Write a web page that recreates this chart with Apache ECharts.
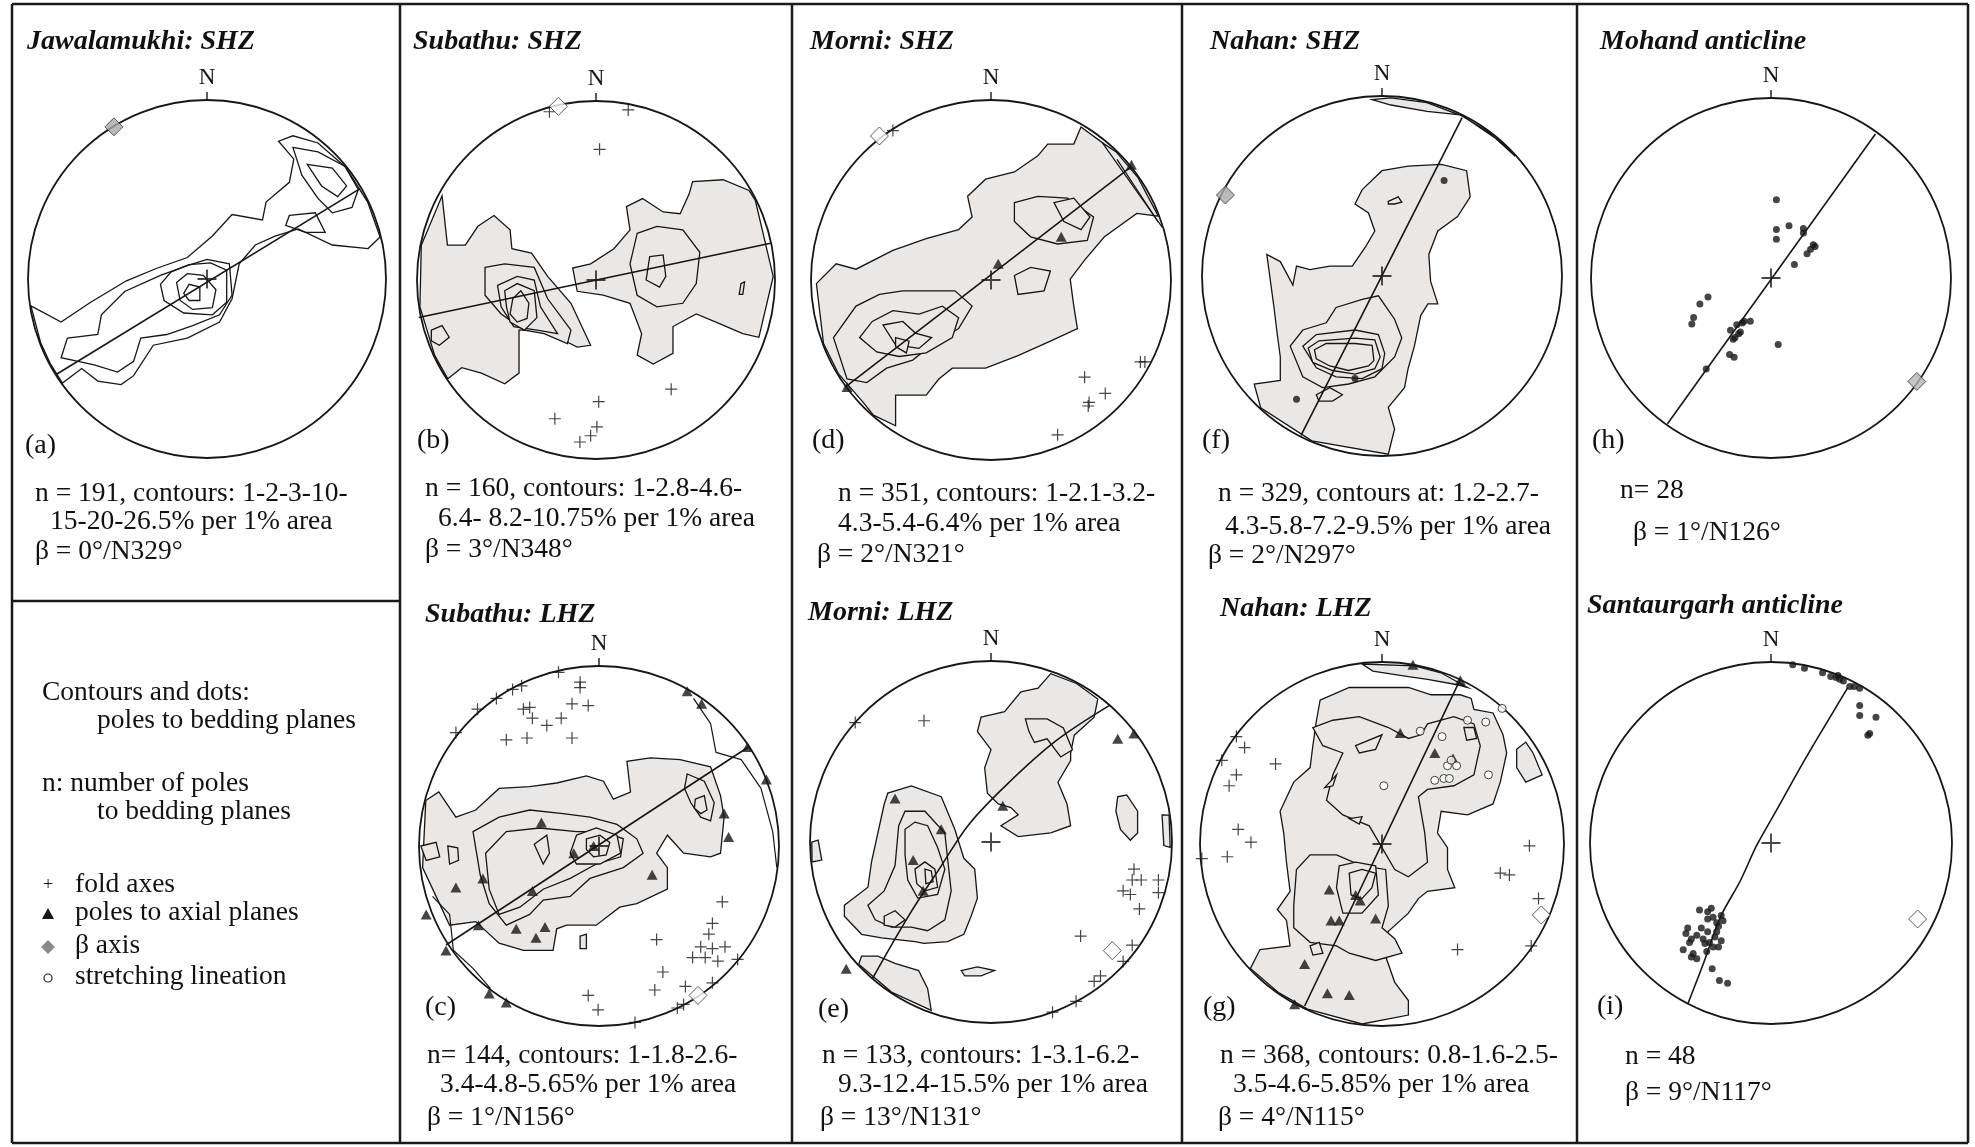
<!DOCTYPE html>
<html><head><meta charset="utf-8">
<script src="https://cdn.jsdelivr.net/npm/echarts@6/dist/echarts.min.js"></script>
<style>html,body{margin:0;padding:0;background:#fff}#c{width:1975px;height:1147px}</style>
</head><body><div id="c"></div>
<script>
// ================= DATA (normalised stereonet coords: x = east, y = north, unit circle) =================
const panelTitles = ['Jawalamukhi: SHZ','Subathu: SHZ','Morni: SHZ','Nahan: SHZ','Mohand anticline','Subathu: LHZ','Morni: LHZ','Nahan: LHZ','Santaurgarh anticline'];
const panelLetters = ['(a)','(b)','(d)','(f)','(h)','(c)','(e)','(g)','(i)'];
const panelStats = [
  ['n = 191, contours: 1-2-3-10-','15-20-26.5% per 1% area','β = 0°/N329°'],
  ['n = 160, contours: 1-2.8-4.6-','6.4- 8.2-10.75% per 1% area','β = 3°/N348°'],
  ['n = 351, contours: 1-2.1-3.2-','4.3-5.4-6.4% per 1% area','β = 2°/N321°'],
  ['n = 329, contours at: 1.2-2.7-','4.3-5.8-7.2-9.5% per 1% area','β = 2°/N297°'],
  ['n= 28','β = 1°/N126°'],
  ['n= 144, contours: 1-1.8-2.6-','3.4-4.8-5.65% per 1% area','β = 1°/N156°'],
  ['n = 133, contours: 1-3.1-6.2-','9.3-12.4-15.5% per 1% area','β = 13°/N131°'],
  ['n = 368, contours: 0.8-1.6-2.5-','3.5-4.6-5.85% per 1% area','β = 4°/N115°'],
  ['n = 48','β = 9°/N117°']
];
const legendLines = ['Contours and dots:','poles to bedding planes','n: number of poles','to bedding planes'];
const legendKeys = ['fold axes','poles to axial planes','β axis','stretching lineation'];
const centerPoint = [[0,0]];

// ---- (a) Jawalamukhi SHZ
const contoursA = [
 [[-0.985,-0.15],[-0.815,-0.24],[-0.65,-0.13],[-0.45,-0.01],[-0.28,0.06],[-0.11,0.12],[0.03,0.24],[0.14,0.36],[0.31,0.33],[0.33,0.43],[0.46,0.54],[0.485,0.67],[0.40,0.77],[0.48,0.80],[0.62,0.76],[0.81,0.65],[0.94,0.45],[0.99,0.24],[0.90,0.17],[0.70,0.19],[0.51,0.28],[0.38,0.24],[0.27,0.19],[0.18,0.085],[0.14,-0.11],[0.07,-0.24],[-0.11,-0.33],[-0.30,-0.37],[-0.41,-0.54],[-0.48,-0.59],[-0.61,-0.57],[-0.70,-0.50],[-0.82,-0.59],[-0.93,-0.50],[-0.97,-0.37]],
 [[-0.78,-0.33],[-0.61,-0.31],[-0.59,-0.20],[-0.46,-0.07],[-0.26,0.02],[-0.11,0.075],[0,0.11],[0.125,0.085],[0.14,-0.09],[0.07,-0.20],[-0.08,-0.26],[-0.225,-0.31],[-0.37,-0.33],[-0.41,-0.46],[-0.50,-0.52],[-0.63,-0.48],[-0.72,-0.46],[-0.815,-0.44]],
 [[-0.2,0.04],[-0.1,0.08],[0.02,0.09],[0.11,0.05],[0.11,-0.13],[0.03,-0.2],[-0.13,-0.19],[-0.24,-0.12],[-0.26,-0.03]],
 [[-0.17,-0.02],[-0.11,0.03],[-0.02,0.02],[0.05,-0.06],[0.03,-0.16],[-0.08,-0.17],[-0.15,-0.12]],
 [[-0.13,-0.08],[-0.10,-0.03],[-0.04,-0.045],[-0.04,-0.12],[-0.10,-0.12]],
 [[0.48,0.735],[0.62,0.71],[0.77,0.63],[0.845,0.50],[0.81,0.40],[0.70,0.37],[0.62,0.45],[0.53,0.58]],
 [[0.56,0.64],[0.70,0.62],[0.78,0.52],[0.73,0.46],[0.64,0.52]],
 [[0.46,0.355],[0.605,0.37],[0.66,0.26],[0.55,0.26],[0.44,0.30]]
];
const girdleA = [[-0.845,-0.535],[0.855,0.505]];
const betaA = [[-0.52,0.85]];

// ---- (b) Subathu SHZ
const contoursB = [
 [[-0.98,0.195],[-0.86,0.47],[-0.83,0.195],[-0.73,0.195],[-0.66,0.30],[-0.57,0.36],[-0.48,0.28],[-0.47,0.175],[-0.36,0.15],[-0.27,0.02],[-0.14,-0.13],[-0.03,-0.365],[-0.105,-0.375],[-0.215,-0.32],[-0.33,-0.28],[-0.43,-0.28],[-0.43,-0.52],[-0.51,-0.58],[-0.64,-0.52],[-0.75,-0.49],[-0.84,-0.56],[-0.92,-0.43],[-0.99,-0.15]],
 [[-0.62,0.07],[-0.51,0.09],[-0.345,0.07],[-0.27,-0.105],[-0.14,-0.28],[-0.16,-0.355],[-0.29,-0.30],[-0.40,-0.28],[-0.53,-0.19],[-0.62,-0.085]],
 [[-0.55,-0.03],[-0.44,0.02],[-0.345,0.0],[-0.31,-0.15],[-0.215,-0.30],[-0.33,-0.28],[-0.46,-0.26],[-0.53,-0.15]],
 [[-0.51,-0.06],[-0.44,-0.02],[-0.345,-0.06],[-0.33,-0.21],[-0.40,-0.28],[-0.48,-0.235],[-0.50,-0.15]],
 [[-0.465,-0.105],[-0.42,-0.06],[-0.375,-0.13],[-0.385,-0.215],[-0.44,-0.235],[-0.48,-0.19]],
 [[-0.92,-0.28],[-0.86,-0.255],[-0.82,-0.32],[-0.875,-0.365],[-0.92,-0.34]],
 [[-0.13,0.067],[-0.105,-0.063],[0.04,-0.084],[0.19,-0.13],[0.255,-0.30],[0.23,-0.42],[0.32,-0.47],[0.43,-0.41],[0.43,-0.26],[0.56,-0.19],[0.67,-0.235],[0.82,-0.30],[0.91,-0.32],[0.99,0.02],[0.91,0.455],[0.855,0.50],[0.71,0.56],[0.54,0.55],[0.52,0.48],[0.47,0.37],[0.375,0.38],[0.26,0.455],[0.17,0.41],[0.19,0.28],[0.10,0.175],[-0.03,0.09]],
 [[0.23,0.26],[0.34,0.30],[0.485,0.28],[0.58,0.155],[0.56,-0.02],[0.485,-0.13],[0.34,-0.15],[0.23,-0.085],[0.19,0.09]],
 [[0.30,0.13],[0.375,0.14],[0.39,0.02],[0.355,-0.04],[0.28,0.0]],
 [[0.81,-0.02],[0.83,-0.01],[0.82,-0.08],[0.80,-0.08]]
];
const girdleB = [[-0.99,-0.21],[0.975,0.205]];
const betaB = [[-0.21,0.97]];
const foldB = [[-0.26,0.94],[0.18,0.95],[0.02,0.73],[0.015,-0.68],[-0.23,-0.775],[0.42,-0.61],[0.005,-0.82],[-0.03,-0.87],[-0.09,-0.905]];

// ---- (d) Morni SHZ
const contoursD = [
 [[-0.97,-0.02],[-0.86,0.09],[-0.75,0.06],[-0.545,0.165],[-0.36,0.23],[-0.18,0.28],[-0.105,0.35],[-0.13,0.465],[-0.03,0.56],[0.13,0.60],[0.26,0.69],[0.315,0.755],[0.46,0.755],[0.50,0.85],[0.63,0.755],[0.72,0.74],[0.865,0.60],[0.97,0.37],[0.81,0.37],[0.63,0.24],[0.52,0.11],[0.44,0.005],[0.46,-0.145],[0.48,-0.27],[0.33,-0.34],[0.15,-0.42],[-0.03,-0.49],[-0.215,-0.49],[-0.29,-0.55],[-0.36,-0.64],[-0.53,-0.64],[-0.53,-0.81],[-0.67,-0.77],[-0.71,-0.68],[-0.86,-0.53],[-0.95,-0.36]],
 [[-0.875,-0.32],[-0.75,-0.145],[-0.62,-0.08],[-0.49,-0.06],[-0.33,-0.06],[-0.20,-0.06],[-0.105,-0.145],[-0.18,-0.27],[-0.33,-0.36],[-0.435,-0.445],[-0.58,-0.49],[-0.69,-0.57],[-0.80,-0.55]],
 [[-0.73,-0.32],[-0.66,-0.23],[-0.545,-0.17],[-0.40,-0.19],[-0.27,-0.145],[-0.18,-0.21],[-0.215,-0.32],[-0.36,-0.405],[-0.51,-0.425],[-0.635,-0.40]],
 [[-0.60,-0.25],[-0.49,-0.23],[-0.42,-0.295],[-0.33,-0.32],[-0.40,-0.38],[-0.53,-0.36]],
 [[-0.53,-0.32],[-0.455,-0.34],[-0.47,-0.405],[-0.53,-0.37]],
 [[0.13,0.43],[0.26,0.465],[0.425,0.455],[0.57,0.35],[0.535,0.22],[0.37,0.20],[0.22,0.24],[0.13,0.325]],
 [[0.35,0.43],[0.46,0.455],[0.55,0.35],[0.50,0.28],[0.405,0.325]],
 [[0.13,0.025],[0.22,0.07],[0.33,0.05],[0.295,-0.06],[0.15,-0.08]]
];
const contourLinesD = [[[0.62,0.76],[0.97,0.30]],[[0.70,0.67],[0.93,0.32]]];
const girdleD = [[-0.81,-0.595],[0.78,0.63]];
const betaD = [[-0.62,0.80]];
const foldD = [[-0.545,0.83],[0.83,-0.455],[0.855,-0.455],[0.52,-0.54],[0.635,-0.63],[0.545,-0.68],[0.54,-0.70],[0.37,-0.86]];
const axialD = [[0.78,0.64],[0.39,0.24],[0.04,0.09],[-0.80,-0.595]];

// ---- (f) Nahan SHZ
const contoursF = [
 [[-0.055,0.98],[0.05,0.95],[0.25,0.915],[0.435,0.895],[0.60,0.81],[0.745,0.67],[0.69,0.79],[0.47,0.915],[0.25,0.965],[0.05,0.99]],
 [[-0.11,0.48],[0.0,0.585],[0.145,0.61],[0.33,0.62],[0.47,0.585],[0.49,0.44],[0.42,0.33],[0.31,0.25],[0.26,0.12],[0.27,-0.03],[0.31,-0.155],[0.255,-0.155],[0.215,-0.22],[0.18,-0.39],[0.145,-0.515],[0.125,-0.62],[0.035,-0.73],[0.07,-0.85],[0.035,-0.99],[-0.40,-0.94],[-0.69,-0.75],[-0.71,-0.60],[-0.565,-0.58],[-0.565,-0.45],[-0.585,-0.30],[-0.60,-0.175],[-0.64,0.12],[-0.565,0.08],[-0.495,-0.05],[-0.475,0.055],[-0.40,0.035],[-0.29,0.055],[-0.165,0.055],[-0.09,0.165],[-0.04,0.25],[-0.075,0.35],[-0.15,0.40]],
 [[-0.31,-0.26],[-0.255,-0.175],[-0.11,-0.13],[-0.02,-0.11],[0.07,-0.24],[0.11,-0.345],[0.07,-0.45],[-0.04,-0.56],[-0.185,-0.60],[-0.33,-0.62],[-0.44,-0.56],[-0.51,-0.39],[-0.44,-0.30]],
 [[-0.44,-0.39],[-0.365,-0.325],[-0.15,-0.30],[-0.02,-0.325],[0.015,-0.43],[0.0,-0.515],[-0.11,-0.57],[-0.255,-0.56],[-0.365,-0.51]],
 [[-0.41,-0.40],[-0.35,-0.36],[-0.15,-0.345],[-0.04,-0.355],[-0.01,-0.45],[-0.04,-0.515],[-0.15,-0.545],[-0.275,-0.525],[-0.385,-0.48]],
 [[-0.375,-0.41],[-0.31,-0.375],[-0.15,-0.375],[-0.055,-0.385],[-0.045,-0.47],[-0.075,-0.50],[-0.185,-0.525],[-0.29,-0.50],[-0.365,-0.46]],
 [[-0.365,-0.66],[-0.29,-0.62],[-0.22,-0.66],[-0.275,-0.695],[-0.35,-0.695]],
 [[0.035,0.415],[0.09,0.44],[0.11,0.41],[0.07,0.40],[0.035,0.40]]
];
const girdleF = [[-0.45,-0.885],[0.445,0.88]];
const betaF = [[-0.87,0.45]];
const dotsF = [[0.345,0.53],[-0.15,-0.57],[-0.475,-0.685]];

// ---- (h) Mohand anticline
const girdleH = [[-0.575,-0.81],[0.58,0.80]];
const betaH = [[0.81,-0.575]];
const dotsH = [[0.03,0.435],[0.03,0.27],[0.10,0.29],[0.03,0.215],[0.18,0.275],[0.18,0.25],[0.235,0.185],[0.22,0.16],[0.20,0.135],[0.245,0.175],[0.13,0.075],[-0.35,-0.105],[-0.395,-0.145],[-0.43,-0.22],[-0.44,-0.255],[-0.225,-0.29],[-0.19,-0.26],[-0.15,-0.24],[-0.115,-0.24],[-0.18,-0.31],[-0.20,-0.33],[-0.21,-0.34],[-0.17,-0.30],[-0.23,-0.425],[-0.205,-0.44],[0.04,-0.37],[-0.36,-0.505],[-0.16,-0.25]];

// ---- (c) Subathu LHZ
const contoursC = [
 [[-0.99,0.26],[-0.89,0.30],[-0.795,0.16],[-0.685,0.20],[-0.555,0.32],[-0.385,0.33],[-0.235,0.35],[-0.07,0.39],[0.025,0.36],[0.08,0.26],[0.175,0.30],[0.155,0.47],[0.285,0.49],[0.45,0.48],[0.62,0.44],[0.675,0.28],[0.695,0.16],[0.675,-0.04],[0.62,-0.06],[0.47,-0.04],[0.38,0.06],[0.32,-0.04],[0.38,-0.12],[0.38,-0.24],[0.21,-0.32],[0.115,-0.34],[-0.015,-0.44],[-0.18,-0.44],[-0.235,-0.46],[-0.255,-0.58],[-0.42,-0.58],[-0.555,-0.54],[-0.685,-0.42],[-0.83,-0.44],[-0.905,-0.28],[-0.98,-0.12]],
 [[-0.70,0.08],[-0.555,0.16],[-0.385,0.20],[-0.20,0.18],[-0.05,0.16],[0.10,0.12],[0.21,0.04],[0.245,-0.04],[0.135,-0.12],[-0.05,-0.18],[-0.16,-0.28],[-0.31,-0.30],[-0.385,-0.38],[-0.515,-0.44],[-0.61,-0.32],[-0.66,-0.16],[-0.68,-0.04]],
 [[-0.63,-0.04],[-0.515,0.08],[-0.33,0.10],[-0.125,0.08],[0.025,0.08],[0.135,0.04],[0.12,-0.06],[-0.015,-0.10],[-0.16,-0.18],[-0.31,-0.24],[-0.44,-0.34],[-0.555,-0.38],[-0.61,-0.24]],
 [[-0.125,0.06],[-0.015,0.10],[0.10,0.06],[0.12,-0.04],[0.005,-0.10],[-0.125,-0.10],[-0.16,-0.04]],
 [[-0.07,0.04],[0.005,0.06],[0.06,0.02],[0.04,-0.05],[-0.03,-0.06],[-0.07,-0.02]],
 [[-0.36,0.01],[-0.29,0.06],[-0.275,-0.04],[-0.31,-0.10]],
 [[0.49,0.40],[0.585,0.36],[0.64,0.24],[0.62,0.14],[0.565,0.16],[0.51,0.24],[0.475,0.32]],
 [[0.535,0.26],[0.585,0.28],[0.60,0.20],[0.565,0.18],[0.53,0.21]],
 [[-0.105,-0.50],[-0.07,-0.49],[-0.07,-0.57],[-0.105,-0.57]],
 [[-0.99,0.0],[-0.905,0.02],[-0.885,-0.06],[-0.96,-0.08]],
 [[-0.84,0.0],[-0.785,-0.01],[-0.78,-0.08],[-0.83,-0.10]]
];
const contourLinesC = [
 [[0.525,0.82],[0.62,0.68],[0.65,0.52],[0.79,0.48],[0.90,0.32],[0.965,0.08],[0.99,-0.12]],
 [[-0.925,-0.28],[-0.83,-0.38],[-0.81,-0.58],[-0.70,-0.68],[-0.61,-0.80]]
];
const girdleC = [[-0.85,-0.55],[0.83,0.55]];
const betaC = [[0.55,-0.83]];
const foldC = [[-0.225,0.965],[-0.43,0.89],[-0.48,0.87],[-0.57,0.82],[-0.675,0.76],[-0.795,0.63],[-0.105,0.91],[-0.105,0.88],[-0.15,0.79],[-0.06,0.78],[-0.42,0.76],[-0.385,0.77],[-0.37,0.71],[-0.29,0.67],[-0.21,0.71],[-0.515,0.59],[-0.40,0.60],[-0.15,0.60],[0.685,-0.31],[0.63,-0.43],[0.61,-0.49],[0.565,-0.56],[0.63,-0.57],[0.70,-0.56],[0.52,-0.62],[0.59,-0.62],[0.66,-0.64],[0.77,-0.63],[0.32,-0.52],[0.355,-0.70],[0.31,-0.80],[0.48,-0.78],[-0.06,-0.83],[-0.005,-0.91],[0.20,-0.98],[0.435,-0.90],[0.47,-0.88],[0.63,-0.76]];
const axialC = [[0.49,0.86],[0.57,0.79],[0.825,0.55],[0.93,0.37],[0.695,0.18],[0.72,0.05],[0.295,-0.16],[-0.03,0.0],[-0.14,-0.04],[-0.32,0.13],[-0.645,-0.18],[-0.795,-0.23],[-0.37,-0.25],[-0.30,-0.45],[-0.46,-0.46],[-0.35,-0.51],[-0.67,-0.44],[-0.96,-0.38],[-0.85,-0.58],[-0.61,-0.82],[-0.515,-0.87]];

// ---- (e) Morni LHZ
const contoursE = [
 [[-0.055,0.69],[0.075,0.72],[0.165,0.83],[0.26,0.85],[0.33,0.93],[0.48,0.89],[0.59,0.79],[0.57,0.69],[0.46,0.59],[0.44,0.49],[0.44,0.45],[0.37,0.33],[0.42,0.21],[0.44,0.09],[0.33,0.05],[0.15,0.03],[0.055,0.09],[0.15,0.15],[0.11,0.19],[0.04,0.21],[-0.02,0.27],[-0.035,0.41],[0.0,0.51],[-0.075,0.61]],
 [[0.19,0.68],[0.31,0.68],[0.40,0.63],[0.45,0.51],[0.385,0.47],[0.31,0.57],[0.24,0.55],[0.21,0.61]],
 [[-0.81,-0.35],[-0.68,-0.25],[-0.66,-0.11],[-0.59,0.21],[-0.57,0.27],[-0.44,0.31],[-0.275,0.25],[-0.20,0.07],[-0.15,-0.09],[-0.09,-0.15],[-0.075,-0.31],[-0.11,-0.41],[-0.15,-0.51],[-0.24,-0.55],[-0.37,-0.56],[-0.42,-0.55],[-0.605,-0.53],[-0.715,-0.51],[-0.81,-0.41]],
 [[-0.68,-0.35],[-0.59,-0.27],[-0.53,-0.13],[-0.51,0.09],[-0.475,0.17],[-0.365,0.17],[-0.255,0.05],[-0.24,-0.09],[-0.22,-0.27],[-0.255,-0.43],[-0.35,-0.49],[-0.44,-0.47],[-0.55,-0.47],[-0.64,-0.43]],
 [[-0.475,-0.07],[-0.475,0.07],[-0.42,0.11],[-0.35,0.09],[-0.295,-0.03],[-0.255,-0.15],[-0.295,-0.29],[-0.405,-0.31],[-0.46,-0.21]],
 [[-0.42,-0.15],[-0.365,-0.11],[-0.31,-0.15],[-0.295,-0.25],[-0.365,-0.27],[-0.41,-0.23]],
 [[-0.365,-0.15],[-0.33,-0.16],[-0.32,-0.22],[-0.36,-0.23]],
 [[-0.59,-0.41],[-0.53,-0.38],[-0.475,-0.43],[-0.53,-0.47],[-0.59,-0.46]],
 [[-0.79,-0.73],[-0.715,-0.63],[-0.625,-0.63],[-0.53,-0.67],[-0.40,-0.71],[-0.35,-0.81],[-0.33,-0.93],[-0.59,-0.89]],
 [[-0.165,-0.71],[-0.075,-0.69],[0.02,-0.71],[-0.055,-0.74],[-0.145,-0.74]],
 [[0.70,0.25],[0.75,0.26],[0.81,0.17],[0.81,0.05],[0.77,0.01],[0.715,0.07],[0.69,0.17]],
 [[0.945,0.15],[0.99,0.15],[0.99,-0.03],[0.955,-0.02]],
 [[-0.99,0.0],[-0.955,0.01],[-0.935,-0.10],[-0.99,-0.11]]
];
const girdleE = [[-0.655,-0.755],[-0.45,-0.40],[-0.28,-0.14],[-0.12,0.10],[0.10,0.33],[0.36,0.56],[0.655,0.755]];
const betaE = [[0.67,-0.60]];
const foldE = [[-0.75,0.66],[-0.37,0.67],[0.79,-0.15],[0.78,-0.21],[0.83,-0.21],[0.73,-0.27],[0.77,-0.29],[0.925,-0.21],[0.925,-0.28],[0.82,-0.37],[0.495,-0.52],[0.78,-0.57],[0.73,-0.66],[0.605,-0.74],[0.57,-0.77],[0.47,-0.88],[0.34,-0.94]];
const axialE = [[0.79,0.60],[0.70,0.57],[0.065,0.20],[-0.53,0.24],[-0.275,0.07],[-0.43,-0.10],[-0.375,-0.27],[-0.80,-0.70]];

// ---- (g) Nahan LHZ
const contoursG = [
 [[-0.11,0.995],[0.18,0.985],[0.325,0.945],[0.47,0.86],[0.415,0.875],[0.25,0.905],[0.145,0.92],[-0.05,0.95]],
 [[-0.34,0.79],[-0.18,0.86],[-0.035,0.86],[0.145,0.86],[0.27,0.82],[0.43,0.82],[0.49,0.80],[0.505,0.74],[0.61,0.72],[0.665,0.60],[0.685,0.50],[0.65,0.34],[0.61,0.22],[0.47,0.16],[0.325,0.18],[0.305,0.06],[0.36,-0.02],[0.36,-0.14],[0.40,-0.24],[0.25,-0.26],[0.20,-0.30],[0.145,-0.38],[0.035,-0.48],[0.0,-0.56],[0.07,-0.76],[0.145,-0.86],[0.145,-0.94],[-0.11,-0.99],[-0.415,-0.92],[-0.595,-0.86],[-0.74,-0.70],[-0.67,-0.58],[-0.505,-0.56],[-0.525,-0.42],[-0.575,-0.36],[-0.505,-0.26],[-0.525,-0.10],[-0.54,0.06],[-0.56,0.18],[-0.485,0.34],[-0.395,0.42],[-0.38,0.54],[-0.36,0.68]],
 [[-0.38,0.64],[-0.27,0.68],[-0.125,0.70],[0.035,0.64],[0.145,0.58],[0.215,0.60],[0.25,0.66],[0.395,0.70],[0.505,0.66],[0.54,0.54],[0.505,0.38],[0.395,0.32],[0.25,0.30],[0.20,0.26],[0.235,0.06],[0.25,-0.10],[0.145,-0.18],[0.07,-0.14],[0.0,-0.02],[-0.07,0.10],[-0.215,0.16],[-0.305,0.24],[-0.27,0.38],[-0.215,0.50],[-0.325,0.54]],
 [[-0.485,-0.34],[-0.47,-0.14],[-0.395,-0.06],[-0.25,-0.06],[-0.11,-0.12],[0.02,-0.14],[0.035,-0.34],[0.0,-0.46],[0.07,-0.52],[0.11,-0.60],[-0.035,-0.64],[-0.18,-0.60],[-0.25,-0.56],[-0.395,-0.54],[-0.485,-0.46]],
 [[-0.235,-0.12],[-0.145,-0.10],[-0.035,-0.12],[-0.02,-0.28],[-0.11,-0.38],[-0.215,-0.38],[-0.25,-0.24]],
 [[-0.18,-0.16],[-0.11,-0.14],[-0.035,-0.16],[-0.055,-0.24],[-0.11,-0.30],[-0.17,-0.28]],
 [[-0.145,0.54],[0.0,0.60],[-0.035,0.52],[-0.125,0.50]],
 [[-0.315,0.31],[-0.25,0.38],[-0.27,0.32]],
 [[-0.18,0.14],[-0.11,0.15],[-0.125,0.11]],
 [[0.45,0.64],[0.505,0.64],[0.52,0.58],[0.465,0.57]],
 [[-0.395,-0.56],[-0.345,-0.54],[-0.325,-0.60],[-0.38,-0.61]],
 [[0.74,0.52],[0.79,0.56],[0.83,0.50],[0.88,0.38],[0.79,0.34],[0.74,0.42]]
];
const girdleG = [[-0.425,-0.89],[0.43,0.905]];
const betaG = [[0.875,-0.39]];
const foldG = [[-0.80,0.59],[-0.755,0.53],[-0.88,0.46],[-0.585,0.44],[-0.80,0.38],[-0.84,0.32],[-0.79,0.08],[-0.72,0.01],[-0.85,-0.07],[-0.99,-0.08],[0.81,-0.01],[0.65,-0.16],[0.70,-0.17],[0.86,-0.30],[0.415,-0.58],[0.82,-0.56]];
const axialG = [[0.17,0.985],[0.43,0.90],[0.10,0.61],[0.29,0.50],[0.39,0.47],[-0.29,-0.25],[-0.145,-0.28],[-0.12,-0.31],[-0.28,-0.42],[-0.235,-0.42],[-0.035,-0.41],[-0.425,-0.66],[-0.30,-0.82],[-0.18,-0.83],[-0.48,-0.88]];
const stretchG = [[0.21,0.62],[0.33,0.59],[0.47,0.68],[0.57,0.67],[0.36,0.43],[0.41,0.43],[0.34,0.36],[0.37,0.36],[0.29,0.35],[0.01,0.32],[0.585,0.38],[0.66,0.745],[0.38,0.46]];

// ---- (i) Santaurgarh anticline
const girdleI = [[-0.46,-0.89],[-0.375,-0.67],[-0.28,-0.41],[-0.17,-0.21],[-0.08,-0.015],[0.03,0.18],[0.175,0.44],[0.305,0.66],[0.425,0.86]];
const betaI = [[0.81,-0.42]];
const dotsI = [[0.12,0.985],[0.185,0.965],[0.285,0.94],[0.33,0.92],[0.36,0.915],[0.38,0.905],[0.37,0.925],[0.40,0.895],[0.435,0.865],[0.46,0.865],[0.49,0.855],[0.49,0.76],[0.49,0.705],[0.58,0.695],[0.545,0.605],[0.535,0.595],
 [-0.395,-0.37],[-0.33,-0.36],[-0.275,-0.40],[-0.35,-0.42],[-0.30,-0.44],[-0.29,-0.46],[-0.46,-0.47],[-0.41,-0.51],[-0.35,-0.49],[-0.34,-0.55],[-0.275,-0.54],[-0.45,-0.55],[-0.365,-0.555],[-0.32,-0.575],[-0.29,-0.575],[-0.485,-0.59],[-0.44,-0.63],[-0.41,-0.64],[-0.325,-0.695],[-0.285,-0.76],[-0.24,-0.775],[-0.385,-0.47],[-0.32,-0.41],[-0.375,-0.53],[-0.30,-0.49],[-0.43,-0.61],[-0.47,-0.50],[-0.265,-0.43],[-0.35,-0.38],[-0.31,-0.52],[-0.44,-0.53],[-0.355,-0.60]];

// ================= LAYOUT / STYLE =================
const SERIF = '"Liberation Serif","Times New Roman",serif';
const INK = '#161616';
const SHADE = '#ebe7e4';
const layout = [
 {cx:207, cy:279, r:179, titleX:27, titleY:42, letX:25, letY:446, tx:[35,50,35], ty:[494,522,552]},
 {cx:596, cy:280, r:179, titleX:413, titleY:42, letX:417, letY:441, tx:[425,438,425], ty:[489,519,550]},
 {cx:991, cy:280, r:180, titleX:810, titleY:42, letX:812, letY:441, tx:[838,838,817], ty:[494,524,555]},
 {cx:1382, cy:276, r:180, titleX:1210, titleY:42, letX:1202, letY:441, tx:[1218,1225,1208], ty:[494,527,556]},
 {cx:1771, cy:278, r:180, titleX:1600, titleY:42, letX:1592, letY:441, tx:[1620,1633], ty:[491,533]},
 {cx:599, cy:846, r:180, titleX:425, titleY:615, letX:425, letY:1008, tx:[427,440,427], ty:[1056,1085,1118]},
 {cx:991, cy:842, r:181, titleX:808, titleY:613, letX:818, letY:1010, tx:[822,838,820], ty:[1056,1085,1118]},
 {cx:1382, cy:844, r:182, titleX:1220, titleY:609, letX:1203, letY:1008, tx:[1220,1233,1218], ty:[1056,1085,1118]},
 {cx:1771, cy:843, r:181, titleX:1587, titleY:606, letX:1597, letY:1007, tx:[1625,1625], ty:[1057,1093]}
];
const panels = [
 {contours:contoursA, lines:[], girdle:girdleA, smooth:false, fold:[], axial:[], dots:[], stretch:[], beta:betaA, betaFill:'#a9a9a9', fill:'rgba(0,0,0,0)'},
 {contours:contoursB, lines:[], girdle:girdleB, smooth:false, fold:foldB, axial:[], dots:[], stretch:[], beta:betaB, betaFill:'#fff', fill:SHADE},
 {contours:contoursD, lines:contourLinesD, girdle:girdleD, smooth:false, fold:foldD, axial:axialD, dots:[], stretch:[], beta:betaD, betaFill:'#fff', fill:SHADE},
 {contours:contoursF, lines:[], girdle:girdleF, smooth:false, fold:[], axial:[], dots:dotsF, stretch:[], beta:betaF, betaFill:'#a9a9a9', fill:SHADE},
 {contours:[], lines:[], girdle:girdleH, smooth:false, fold:[], axial:[], dots:dotsH, stretch:[], beta:betaH, betaFill:'#b5b5b5', fill:SHADE},
 {contours:contoursC, lines:contourLinesC, girdle:girdleC, smooth:false, fold:foldC, axial:axialC, dots:[], stretch:[], beta:betaC, betaFill:'#fff', fill:SHADE},
 {contours:contoursE, lines:[], girdle:girdleE, smooth:0.35, fold:foldE, axial:axialE, dots:[], stretch:[], beta:betaE, betaFill:'#fff', fill:SHADE},
 {contours:contoursG, lines:[], girdle:girdleG, smooth:false, fold:foldG, axial:axialG, dots:[], stretch:stretchG, beta:betaG, betaFill:'#fff', fill:SHADE},
 {contours:[], lines:[], girdle:girdleI, smooth:0.3, fold:[], axial:[], dots:dotsI, stretch:[], beta:betaI, betaFill:'#fff', fill:SHADE}
];
const PLUS = 'path://M9,0H11V9H20V11H11V20H9V11H0V9H9Z';
function clampPt(q){ const d = Math.hypot(q[0], q[1]); return d > 0.995 ? [q[0]/d*0.995, q[1]/d*0.995] : q; }

const grids=[], xAxes=[], yAxes=[], polars=[], angleAxes=[], radiusAxes=[], series=[];
panels.forEach((p, i) => {
  const L = layout[i];
  grids.push({left:L.cx-L.r, top:L.cy-L.r, width:2*L.r, height:2*L.r});
  xAxes.push({gridIndex:i, type:'value', min:-1, max:1, show:false});
  yAxes.push({gridIndex:i, type:'value', min:-1, max:1, show:false});
  polars.push({center:[L.cx, L.cy], radius:L.r});
  angleAxes.push({polarIndex:i, type:'value', min:0, max:360, interval:360, startAngle:90, clockwise:true,
    axisLine:{show:true, lineStyle:{color:INK, width:1.8}},
    axisTick:{show:true, length:8, lineStyle:{color:INK, width:1.4}},
    axisLabel:{show:true, margin:11, formatter:(v)=> v===0 ? 'N' : '', color:INK, fontFamily:SERIF, fontSize:23},
    splitLine:{show:false}, splitArea:{show:false}});
  radiusAxes.push({polarIndex:i, type:'value', min:0, max:1, show:false, splitLine:{show:false}, splitArea:{show:false}});
  series.push({type:'scatter', coordinateSystem:'polar', polarIndex:i, data:[], silent:true});
  if (p.contours.length) series.push({type:'custom', xAxisIndex:i, yAxisIndex:i, z:1, silent:true,
    data:p.contours.map((_, k)=>[0,0,k]),
    renderItem:(params, api)=>{
      const ring = p.contours[params.dataIndex];
      return {type:'polygon', shape:{points:ring.map(q=>api.coord(clampPt(q)))},
        style:{fill:p.fill, stroke:INK, lineWidth:1.3}};
    }});
  p.lines.forEach(ln => series.push({type:'line', xAxisIndex:i, yAxisIndex:i, z:2, silent:true, symbol:'none',
    data:ln.map(clampPt), lineStyle:{color:INK, width:1.2}}));
  series.push({type:'line', xAxisIndex:i, yAxisIndex:i, z:3, silent:true, symbol:'none', smooth:p.smooth,
    data:p.girdle, lineStyle:{color:INK, width:1.6}});
  series.push({type:'scatter', xAxisIndex:i, yAxisIndex:i, z:5, silent:true, symbol:PLUS, symbolSize:19,
    data:centerPoint, itemStyle:{color:INK}});
  if (p.fold.length) series.push({type:'scatter', xAxisIndex:i, yAxisIndex:i, z:5, silent:true, symbol:PLUS, symbolSize:12,
    data:p.fold, itemStyle:{color:INK}});
  if (p.axial.length) series.push({type:'scatter', xAxisIndex:i, yAxisIndex:i, z:5, silent:true, symbol:'triangle', symbolSize:[11,10],
    data:p.axial, itemStyle:{color:INK}});
  if (p.dots.length) series.push({type:'scatter', xAxisIndex:i, yAxisIndex:i, z:5, silent:true, symbol:'circle', symbolSize:7,
    data:p.dots, itemStyle:{color:INK}});
  if (p.stretch.length) series.push({type:'scatter', xAxisIndex:i, yAxisIndex:i, z:5, silent:true, symbol:'circle', symbolSize:8,
    data:p.stretch, itemStyle:{color:'#fff', borderColor:INK, borderWidth:1}});
  series.push({type:'scatter', xAxisIndex:i, yAxisIndex:i, z:6, silent:true, symbol:'diamond', symbolSize:[18,18],
    data:p.beta, itemStyle:{color:p.betaFill, borderColor:'#333', borderWidth:1}});
});

// ---- texts & frame (graphic)
const G = [];
const txt = (x, y, s, font) => G.push({type:'text', x, y, silent:true, style:{text:s, font, fill:'#111', verticalAlign:'middle'}});
const TITLE_FONT = 'italic bold 28px ' + SERIF;
const BODY_FONT = '27.5px ' + SERIF;
layout.forEach((L, i) => {
  txt(L.titleX, L.titleY, panelTitles[i], TITLE_FONT);
  txt(L.letX, L.letY, panelLetters[i], '28px ' + SERIF);
  panelStats[i].forEach((s, k) => txt(L.tx[k], L.ty[k], s, BODY_FONT));
});
txt(42, 693, legendLines[0], BODY_FONT);
txt(97, 721, legendLines[1], BODY_FONT);
txt(42, 784, legendLines[2], BODY_FONT);
txt(97, 812, legendLines[3], BODY_FONT);
const keyY = [885, 913, 946, 977];
legendKeys.forEach((s, k) => txt(75, keyY[k], s, BODY_FONT));
G.push({type:'text', x:43, y:885, style:{text:'+', font:'18px '+SERIF, fill:'#111', verticalAlign:'middle'}});
G.push({type:'polygon', shape:{points:[[42,919],[54,919],[48,908]]}, style:{fill:INK}});
G.push({type:'polygon', shape:{points:[[48,940],[55,947],[48,954],[41,947]]}, style:{fill:'#8a8a8a'}});
G.push({type:'circle', shape:{cx:48, cy:978, r:4}, style:{fill:'#fff', stroke:'#222', lineWidth:1.2}});
const lineEl = (x1,y1,x2,y2,w) => G.push({type:'line', shape:{x1,y1,x2,y2}, style:{stroke:'#1a1a1a', lineWidth:w}});
lineEl(12,4,1968,4,2.5);
lineEl(12,1143,1968,1143,2.5);
lineEl(12,4,12,1143,2.5);
lineEl(1968,4,1968,1143,2.5);
[400,792,1182,1577].forEach(x => lineEl(x,4,x,1143,2.5));
lineEl(12,601,400,601,2.5);

const chart = echarts.init(document.getElementById('c'));
chart.setOption({
  backgroundColor:'#fff', animation:false,
  grid:grids, xAxis:xAxes, yAxis:yAxes, polar:polars, angleAxis:angleAxes, radiusAxis:radiusAxes,
  series, graphic:{elements:G}
});
</script></body></html>
